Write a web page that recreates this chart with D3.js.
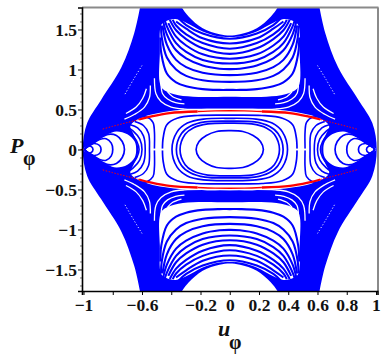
<!DOCTYPE html>
<html>
<head>
<meta charset="utf-8">
<script src="https://cdn.jsdelivr.net/npm/d3@7"></script>
<style>
  body { margin: 0; background: #fff; }
  svg { display: block; }
  .tickText text { font-family: "Liberation Serif", serif; font-weight: bold; font-size: 17.5px; fill: #111; }
</style>
</head>
<body>
<div class="chart"></div>
<script>
// phase portrait, values as [u, P]
// picture is symmetric so only the u>0, P>0 part is listed and then mirrored

// blue envelope, from the bowl at u=0 round to the tip at P=0
var envelope = [[0,1.425],[.07,1.44],[.185,1.515],[.28,1.66],[.33,1.78],[.37,1.92],[.6,1.92],[.613,1.78],[.654,1.45],[.74,1.03],[.88,.62],[.975,.33],[1.005,0]];

// white holes
var upperHole = [[0,.66],[.25,.66],[.38,.69],[.46,.76],[.48,.85],[.478,1.2],[.47,1.55],[.44,1.6],[.37,1.63],[.298,1.585],[.185,1.475],[.08,1.415],[0,1.405]];
var midHole = [[0,.51],[.3,.5],[.45,.47],[.55,.43],[.64,.365],[.68,.29],[.66,.2],[.635,.1],[.625,0]];
var lobeHole = [[.64,0],[.65,.1],[.7,.19],[.775,.225],[.834,.19],[.913,.1],[1,0]];

// upper arcs
var arcs = [
  [[0,.745],[.07,.745],[.185,.755],[.298,.79],[.367,.84],[.43,.95],[.468,1.2],[.475,1.4]],
  [[0,.845],[.185,.865],[.298,.92],[.367,1],[.43,1.15],[.465,1.4],[.47,1.55]],
  [[0,.93],[.185,.96],[.298,1.03],[.367,1.12],[.43,1.31],[.46,1.55]],
  [[0,1.005],[.07,1.01],[.185,1.05],[.298,1.14],[.367,1.24],[.43,1.44],[.455,1.6]],
  [[0,1.075],[.185,1.12],[.298,1.22],[.367,1.33],[.43,1.54],[.45,1.65]],
  [[0,1.135],[.185,1.19],[.298,1.3],[.367,1.41],[.42,1.58]],
  [[0,1.195],[.185,1.265],[.298,1.38],[.367,1.49],[.41,1.62]],
  [[0,1.26],[.185,1.33],[.298,1.44],[.367,1.55],[.39,1.62]],
  [[0,1.325],[.185,1.39],[.298,1.51],[.367,1.6]],
  [[0,1.385],[.185,1.45],[.298,1.556],[.35,1.64]]
];

// closed curves round the centre
var ovals = [
  [[0,.235],[.09,.225],[.16,.175],[.21,.1],[.23,0]],
  [[0,.33],[.15,.32],[.25,.27],[.305,.19],[.34,0]],
  [[0,.355],[.17,.345],[.27,.29],[.33,.2],[.365,0]],
  [[0,.39],[.18,.38],[.29,.33],[.36,.22],[.395,0]],
  [[0,.43],[.22,.425],[.36,.39],[.43,.31],[.455,.15],[.46,0]]
];

// brackets right of the spire
var brackets = [
  [[.515,0],[.515,.22],[.525,.34],[.57,.405],[.62,.4]],
  [[.549,0],[.555,.2],[.59,.3],[.65,.35]],
  [[.578,0],[.59,.17],[.63,.27],[.68,.31]],
  [[.6,0],[.615,.13],[.66,.23],[.7,.28]],
  [[.62,0],[.635,.1],[.67,.19]]
];

// curves round the tip
var lobes = [
  [[.72,0],[.735,.1],[.775,.175],[.83,.19],[.89,.14],[.95,.06],[.99,0]],
  [[.8,0],[.81,.08],[.845,.135],[.89,.125],[.94,.07],[.99,0]],
  [[.88,0],[.89,.05],[.925,.075],[.955,.06],[.99,0]],
  [[.935,0],[.95,.04],[.97,.04],[.99,0]]
];

// white gaps in the blue fans
var fanGaps = [
  [[.515,.89],[.505,.7],[.47,.6],[.4,.53],[.31,.505],[.1,.5],[0,.5]],
  [[.47,.83],[.46,.7],[.425,.63],[.37,.585],[.31,.57]],
  [[.425,.72],[.39,.66],[.33,.62]],
  [[.543,.8],[.549,.65],[.583,.53],[.65,.44],[.72,.38]],
  [[.57,.76],[.595,.64],[.64,.53],[.71,.45]]
];
var fanDots = [
  [[.6,1.05],[.66,.87],[.72,.68]]
];
var axisDash = [[.445,0],[.525,0]];

// red separatrix
var redCentre = [[0,.485],[.1,.483],[.22,.475]];
var redThick = [[.22,.475],[.412,.455],[.544,.41],[.62,.375]];
var redThin = [[.62,.375],[.704,.335],[.8,.29],[.879,.25]];
var redStub = [[-1.02,0],[-1,0]];

// ticks
var xTicks = [-1,-.8,-.6,-.4,-.2,0,.2,.4,.6,.8,1];
var xTickLabels = ["\u22121","","\u22120.6","","\u22120.2","0","0.2","0.4","0.6","0.8","1"];
var yTicks = [-1.5,-1,-.5,0,.5,1,1.5];
var yTickLabels = ["\u22121.5","\u22121","\u22120.5","0","0.5","1","1.5"];
var yMinorTicks = [-1.7,-1.6,-1.4,-1.3,-1.2,-1.1,-.9,-.8,-.7,-.6,-.4,-.3,-.2,-.1,.1,.2,.3,.4,.6,.7,.8,.9,1.1,1.2,1.3,1.4,1.6,1.7];

var svgWidth = 388, svgHeight = 356;
var margin = { top: 7.5, right: 10.5, bottom: 65, left: 82 };
var chartWidth = svgWidth - margin.left - margin.right;
var chartHeight = svgHeight - margin.top - margin.bottom;

var blue = "#0000ff";

var svg = d3.select(".chart").append("svg")
  .attr("width", svgWidth)
  .attr("height", svgHeight);

var chartGroup = svg.append("g")
  .attr("transform", `translate(${margin.left}, ${margin.top})`);

var xScale = d3.scaleLinear().domain([-1.0103, 1.0103]).range([0, chartWidth]);
var yScale = d3.scaleLinear().domain([-1.769, 1.775]).range([chartHeight, 0]);

var smooth = d3.line().x(d => xScale(d[0])).y(d => yScale(d[1])).curve(d3.curveCatmullRom.alpha(0.5));
var smoothClosed = d3.line().x(d => xScale(d[0])).y(d => yScale(d[1])).curve(d3.curveCatmullRomClosed.alpha(0.5));

// mirror helpers
function flip(pts, su, sp) { return pts.map(d => [d[0] * su, d[1] * sp]); }
function ringFromQuadrant(q) {
  var a = q;
  var b = flip(q, 1, -1).reverse().slice(1);
  var c = flip(q, -1, -1).slice(1);
  var d = flip(q, -1, 1).reverse().slice(1, -1);
  return a.concat(b, c, d);
}
function ringAcrossP(half) {
  return half.concat(flip(half, 1, -1).reverse().slice(1, -1));
}
function acrossU(pts) { return flip(pts, -1, 1).reverse().slice(0, -1).concat(pts); }
function acrossP(pts) { return flip(pts, 1, -1).reverse().slice(0, -1).concat(pts); }
var bothSides = [1, -1];

svg.append("defs").append("clipPath").attr("id", "frame")
  .append("rect").attr("width", chartWidth).attr("height", chartHeight);

var plot = chartGroup.append("g").attr("clip-path", "url(#frame)");

// blue base
plot.append("path").attr("d", smoothClosed(ringFromQuadrant(envelope))).attr("fill", blue);

// holes
plot.append("path").attr("d", smoothClosed(ringFromQuadrant(midHole))).attr("fill", "#fff");
bothSides.forEach(function (s) {
  plot.append("path").attr("d", smoothClosed(acrossU(flip(upperHole, 1, s)))).attr("fill", "#fff");
  plot.append("path").attr("d", smoothClosed(ringAcrossP(flip(lobeHole, s, 1)))).attr("fill", "#fff");
});

// blue lines
function blueLine(d, width) {
  plot.append("path").attr("d", d).attr("fill", "none")
    .attr("stroke", blue).attr("stroke-width", width);
}
arcs.forEach(function (arc) {
  bothSides.forEach(s => blueLine(smooth(acrossU(flip(arc, 1, s))), 2.1));
});
ovals.forEach(o => blueLine(smoothClosed(ringFromQuadrant(o)), 1.7));
brackets.forEach(function (b) {
  bothSides.forEach(s => blueLine(smooth(acrossP(flip(b, s, 1))), 1.6));
});
lobes.forEach(function (l) {
  bothSides.forEach(s => blueLine(smoothClosed(ringAcrossP(flip(l, s, 1))), 1.7));
});

// white gaps on top of the blue
function whiteLine(pts, width, dash) {
  [[1,1],[1,-1],[-1,1],[-1,-1]].forEach(function (m) {
    plot.append("path").attr("d", smooth(flip(pts, m[0], m[1]))).attr("fill", "none")
      .attr("stroke", "#fff").attr("stroke-width", width)
      .attr("stroke-dasharray", dash);
  });
}
fanGaps.forEach(g => whiteLine(g, 1.3, null));
fanDots.forEach(g => whiteLine(g, 0.9, "1.2 2"));
whiteLine(axisDash, 1.6, null);

// red
bothSides.forEach(function (s) {
  plot.append("path").attr("d", smooth(acrossU(flip(redCentre, 1, s)))).attr("fill", "none")
    .attr("stroke", "#ff0000").attr("stroke-width", 1.4);
  bothSides.forEach(function (t) {
    plot.append("path").attr("d", smooth(flip(redThick, t, s))).attr("fill", "none")
      .attr("stroke", "#ff0000").attr("stroke-width", 2.3);
    plot.append("path").attr("d", smooth(flip(redThin, t, s))).attr("fill", "none")
      .attr("stroke", "#ff0000").attr("stroke-width", 1).attr("stroke-dasharray", "1.5 1.5");
  });
});
chartGroup.append("path").attr("d", smooth(redStub)).attr("stroke", "#e01010").attr("stroke-width", 1.2).attr("fill", "none");

// grey top and right edge of the frame
chartGroup.append("line").attr("x1", 0).attr("x2", chartWidth + 1).attr("y1", 0).attr("y2", 0)
  .attr("stroke", "#8a8a8a").attr("stroke-width", 2);
chartGroup.append("line").attr("x1", chartWidth + .5).attr("x2", chartWidth + .5).attr("y1", 0).attr("y2", chartHeight)
  .attr("stroke", "#8a8a8a").attr("stroke-width", 2);

// axes
var bottomAxis = d3.axisBottom(xScale).tickValues(xTicks).tickSizeOuter(0).tickSize(4).tickPadding(4)
  .tickFormat((d, i) => xTickLabels[i]);
var leftAxis = d3.axisLeft(yScale).tickValues(yTicks).tickSizeOuter(0).tickSize(4).tickPadding(1)
  .tickFormat((d, i) => yTickLabels[i]);
var leftMinor = d3.axisLeft(yScale).tickValues(yMinorTicks).tickSizeOuter(0).tickSize(2).tickFormat("");

var minorGroup = chartGroup.append("g").call(leftMinor);
minorGroup.select(".domain").remove();
minorGroup.selectAll("line").attr("stroke", "#777");

chartGroup.append("g").attr("class", "tickText")
  .attr("transform", `translate(0, ${chartHeight})`).call(bottomAxis)
  .selectAll(".domain").attr("stroke-width", 1.6);
chartGroup.append("g").attr("class", "tickText").call(leftAxis)
  .selectAll(".domain").attr("stroke-width", 1.6);

// axis titles
function title(main, x, y, subX, subY) {
  var t = svg.append("g").attr("font-family", "'Liberation Serif', serif").attr("font-weight", "bold").attr("fill", "#111");
  t.append("text").attr("x", x).attr("y", y).attr("font-style", "italic").attr("font-size", "22px").text(main);
  t.append("text").attr("x", subX).attr("y", subY).attr("font-size", "20px").text("\u03c6");
}
title("P", 10, 153, 23, 165);
title("u", 218, 336, 229, 349);
</script>
</body>
</html>
